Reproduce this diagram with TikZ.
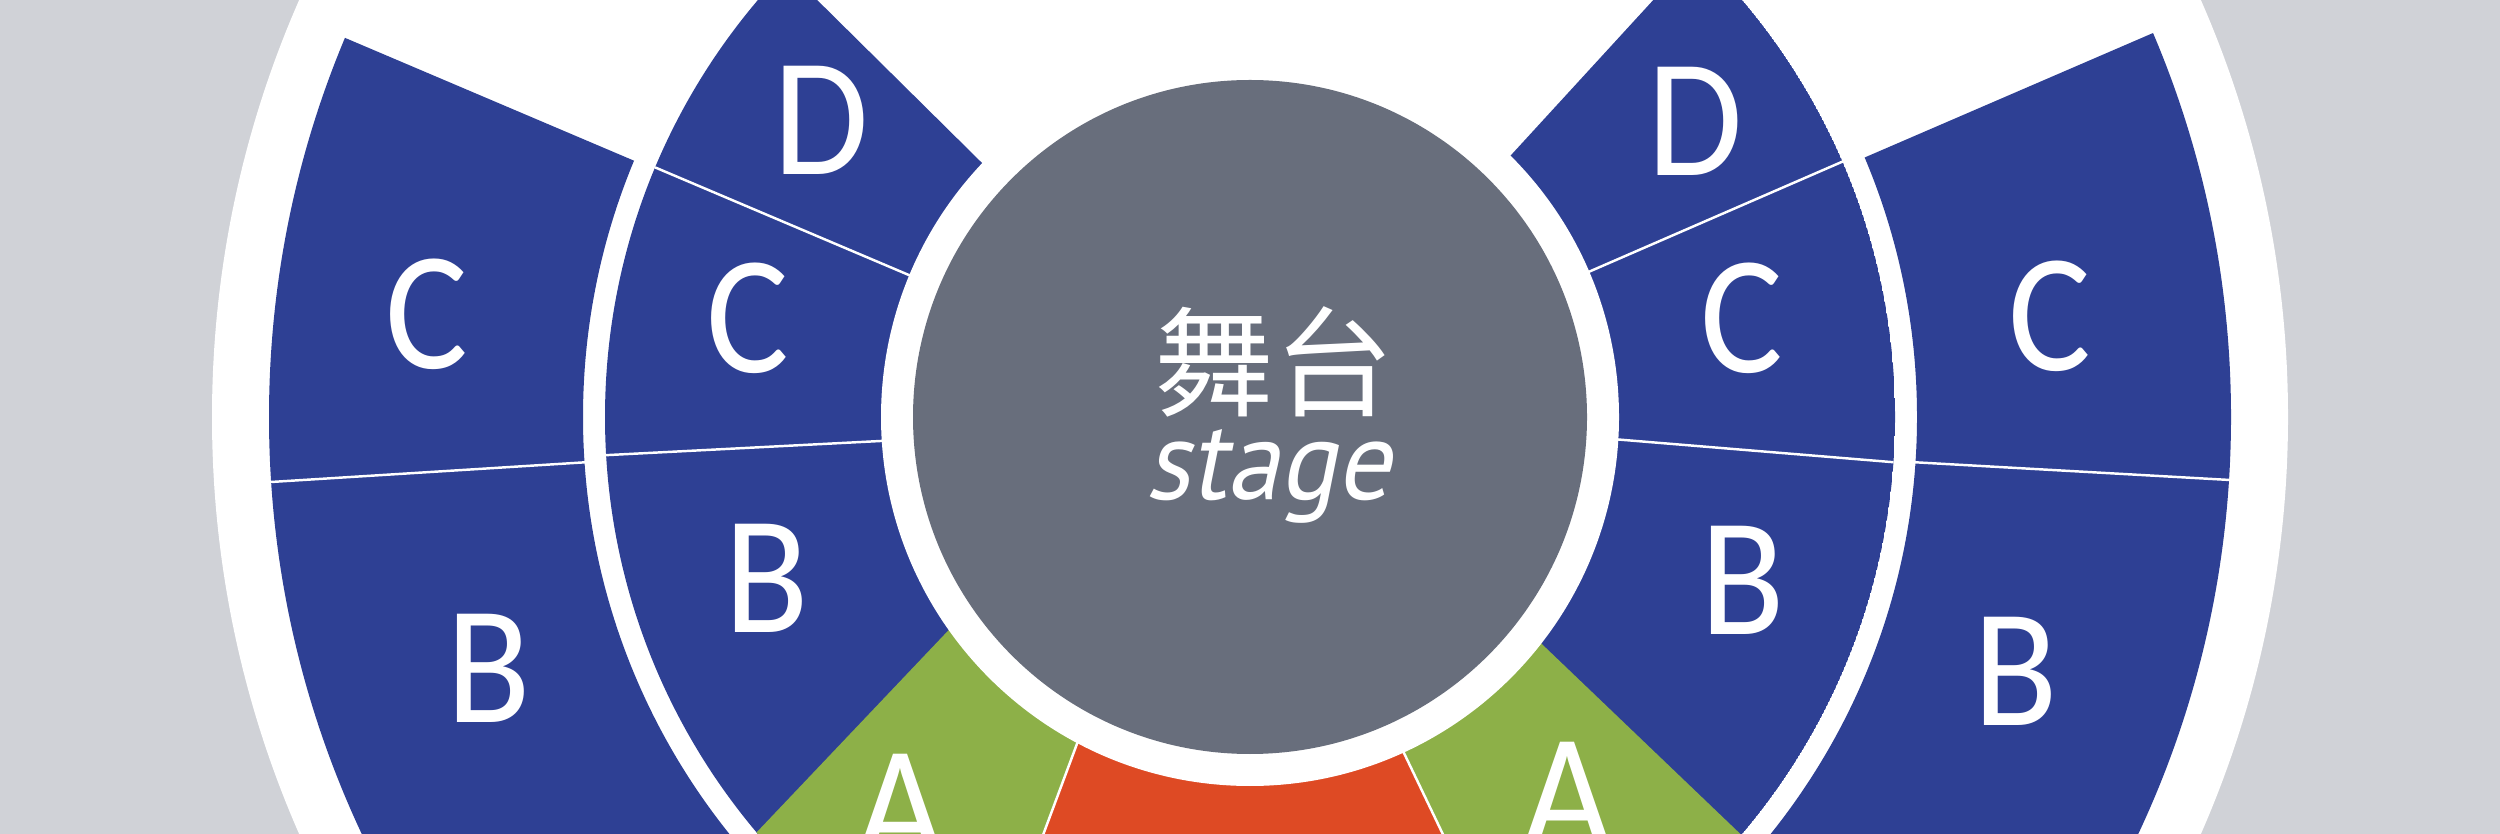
\documentclass[tikz,border=0pt]{standalone}
\usepackage{fontspec}
\usepackage{xcolor}
\usepackage{tikz}
\usetikzlibrary{positioning}
\newfontfamily\seatfont[FakeStretch=0.92]{Carlito}
\newfontfamily\stagefont[FakeStretch=0.95,FakeSlant=0.2]{PT Sans}
\newfontfamily\cjk{Noto Sans CJK SC}
\definecolor{bggray}{HTML}{D0D2D7}
\definecolor{seatblue}{HTML}{2E4094}
\definecolor{seatgreen}{HTML}{8DB048}
\definecolor{seatred}{HTML}{DE4A24}
\definecolor{stagegray}{HTML}{686E7C}

\begin{document}
\begin{tikzpicture}[x=0.01cm, y=-0.01cm,
  seat/.style={text=white, inner sep=0pt, font=\seatfont\fontsize{48}{48}\selectfont},
  sepline/.style={white, line width=0.7pt}]
\useasboundingbox (0,0) rectangle (2500,834);
\clip (0,0) rectangle (2500,834);
\fill[bggray] (0,0) rectangle (2500,834);
\coordinate (c) at (1250,417);
\fill[white] (c) circle[radius=1038];

\begin{scope}
\clip (0,-100) -- (150,-45) -- (750,210) -- (1750,207) -- (2350,-52) -- (2600,-100) -- (2600,900) -- (0,900) -- cycle;
\fill[seatblue, even odd rule] (c) circle[radius=981] (c) circle[radius=667];
\draw[sepline] (271,482) -- (590,462);
\draw[sepline] (1910,462) -- (2230,480);
\end{scope}

\begin{scope}
\clip (c) circle[radius=645];
\clip (0,-100) -- (716,-100) -- (1070,250) -- (1424,250) -- (1745,-100) -- (2600,-100) -- (2600,900) -- (0,900) -- cycle;
\fill[seatblue] (c) circle[radius=645];
\fill[seatgreen] (1000,576) -- (700,892) -- (1030,870) -- (1100,682) -- cycle;
\fill[seatred] (1100,682) -- (1030,870) -- (1460,870) -- (1380,703) -- cycle;
\fill[seatgreen] (1380,703) -- (1460,870) -- (1778,870) -- (1500,604) -- cycle;
\draw[sepline] (1100,682) -- (1030,870);
\draw[sepline] (1380,703) -- (1460,870);
\draw[sepline] (640,161) -- (930,284);
\draw[sepline] (590,456) -- (900,440);
\draw[sepline] (1860,154) -- (1570,280);
\draw[sepline] (1600,438) -- (1915,464);
\end{scope}

\fill[white] (c) circle[radius=369];
\fill[stagegray] (c) circle[radius=337];

\node[seat] (d_left) at (821,120) {D};
\node[seat] (c_outer_left) at (427,314) {C};
\node[seat] (c_inner_left) at (748,318) {C};
\node[seat] (b_inner_left) at (767,578) {B};
\node[seat] (b_outer_left) at (489,668) {B};
\node[seat] (a_left) at (900,808) {A};

\node[seat] (d_right) at (1695,121) {D};
\node[seat] (c_inner_right) at (1742,318) {C};
\node[seat] (c_outer_right) at (2050,316) {C};
\node[seat] (b_inner_right) at (1743,580) {B};
\node[seat] (b_outer_right) at (2016,671) {B};
\node[seat] (a_right) at (1567,796) {A};

\node[text=white, inner sep=0pt, font=\cjk\fontsize{34}{34}\selectfont] (stage_cn) at (1274,362) {舞台};
\node[text=white, inner sep=0pt, anchor=base, font=\stagefont\fontsize{32}{32}\selectfont] (stage_en) at (1268,500) {stage};
\end{tikzpicture}
\end{document}
